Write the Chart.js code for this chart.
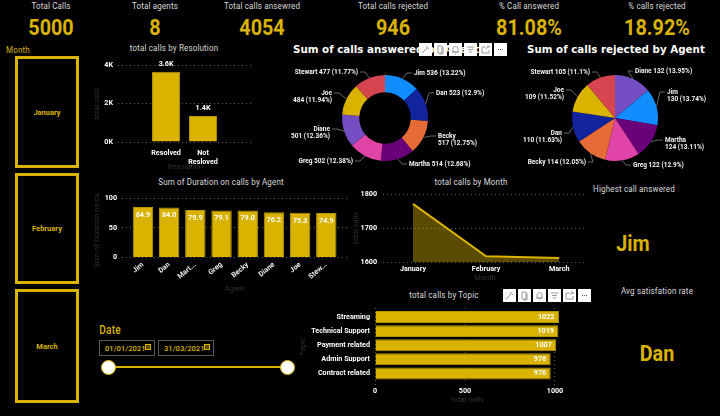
<!DOCTYPE html>
<html>
<head>
<meta charset="utf-8">
<title>Call centre dashboard</title>
<script src="https://cdn.jsdelivr.net/npm/chart.js@4/dist/chart.umd.min.js"></script>
<style>
  html, body { margin: 0; padding: 0; background: #000; }
  #page { position: relative; width: 720px; height: 416px; overflow: hidden; background: #000; font-family: Roboto, sans-serif; }
  #page canvas { position: absolute; }
  .t { position: absolute; white-space: nowrap; transform: translate(-50%, -50%) scaleX(.84); color: #dcdcdc; font-size: 9.5px; letter-spacing: .2px; }
  .big { color: #d9b300; font-size: 21.5px; font-weight: 700; letter-spacing: 0; transform: translate(-50%, -50%) scaleX(.92); }
  .gold { color: #d9b300; }
  .head { color: #fff; font: bold 10.3px "DejaVu Sans", sans-serif; transform: translate(0, -50%); letter-spacing: 0; }
  .slicer { position: absolute; left: 15px; width: 58px; border: 3px solid #d9b300; display: flex; align-items: center; justify-content: center; color: #d9b300; font-size: 7.5px; font-weight: 700; }
  .date { position: absolute; top: 340px; height: 14px; border: 1px solid #5a5a5a; color: #d9b300; font-size: 7.6px; font-weight: 500; line-height: 15px; padding-left: 5px; box-sizing: content-box; }
  .date i { position: absolute; right: 3px; top: 3px; width: 4px; height: 4px; border: 1px solid #d9b300; background: #5c4c00; }
  .track { position: absolute; left: 108px; top: 366px; width: 179px; height: 2px; background: #d9b300; }
  .knob { position: absolute; top: 360px; width: 13px; height: 13px; border-radius: 50%; background: #fff; border: 1px solid #d9b300; }
  .tools { position: absolute; display: flex; gap: 2px; z-index: 5; }
  .tools b { display: block; width: 13px; height: 13px; background: #fff; }
  .tools svg { display: block; width: 13px; height: 13px; fill: none; stroke: #9a9a9a; stroke-width: 1; }
</style>
</head>
<body>
<div id="page"></div>
<script>
const kpiNames = ["Total Calls", "Total agents", "Total calls ansewred", "Total calls rejected", "% Call answered", "% calls rejected"];
const kpiValues = ["5000", "8", "4054", "946", "81.08%", "18.92%"];
const months = ["January", "February", "March"];
const monthCalls = [1771, 1617, 1612];
const resolutions = [["Resolved"], ["Not", "Resloved"]];
const resolutionCalls = [3646, 1354];
const durationAgents = ["Jim", "Dan", "Mart...", "Greg", "Becky", "Diane", "Joe", "Stew..."];
const durationValues = [84.9, 84.0, 79.9, 79.1, 79.0, 76.2, 75.3, 74.9];
const answeredAgents = ["Jim", "Dan", "Becky", "Martha", "Greg", "Diane", "Joe", "Stewart"];
const answeredCalls = [536, 523, 517, 514, 502, 501, 484, 477];
const rejectedAgents = ["Diane", "Jim", "Martha", "Greg", "Becky", "Dan", "Joe", "Stewart"];
const rejectedCalls = [132, 130, 124, 122, 114, 110, 109, 105];
const topics = ["Streaming", "Technical Support", "Payment related", "Admin Support", "Contract related"];
const topicCalls = [1022, 1019, 1007, 976, 976];

const gold = "#d9b300";
const agentColors = { Jim: "#118dff", Dan: "#12239e", Becky: "#e66c37", Martha: "#6b007b", Greg: "#e044a7", Diane: "#744ec2", Joe: "#d9b300", Stewart: "#d64550" };
const tickFont = { family: "Roboto", size: 7.2, weight: "bold" };
const dimTitle = { color: "#303030", font: { family: "Roboto", size: 7.5 } };
const gridLine = { color: "#5c5c5c", drawTicks: false };
const noGrid = { display: false, drawTicks: false };
const gridBorder = { display: false, dash: [1, 3] };

const page = document.getElementById("page");

function text(str, x, y, cls) {
  const d = document.createElement("div");
  d.className = "t " + (cls || "");
  d.textContent = str;
  d.style.left = x + "px";
  d.style.top = y + "px";
  page.appendChild(d);
}

// kpi row
const kpiX = [51, 155, 262, 393, 529, 657];
kpiNames.forEach((n, i) => {
  text(n, kpiX[i], 5);
  text(kpiValues[i], kpiX[i], 27, "big");
});
text("Month", 18, 49, "gold");

text("total calls by Resolution", 174, 47);
text("Sum of Duration on calls by Agent", 221, 181);
text("total calls by Month", 471, 181);
text("total calls by Topic", 444, 294);
text("Highest call answered", 634, 188);
text("Jim", 633, 243, "big");
text("Avg satisfation rate", 657, 290);
text("Dan", 657, 353, "big");
text("Sum of calls answered by Agent", 293, 49, "head");
text("Sum of calls rejected by Agent", 527, 49, "head");

// month slicer
[[56, 106], [173, 105], [289, 108]].forEach((b, i) => {
  const d = document.createElement("div");
  d.className = "slicer";
  d.style.top = b[0] + "px";
  d.style.height = b[1] + "px";
  d.textContent = months[i];
  page.appendChild(d);
});

// date slicer
text("Date", 110, 330, "gold");
page.lastChild.style.fontSize = "12px";
page.lastChild.style.fontWeight = "500";
[["01/01/2021", 99], ["31/03/2021", 158]].forEach(b => {
  const d = document.createElement("div");
  d.className = "date";
  d.style.left = b[1] + "px";
  d.style.width = "49px";
  d.innerHTML = b[0] + "<i></i>";
  page.appendChild(d);
});
page.insertAdjacentHTML("beforeend", '<div class="track"></div><div class="knob" style="left:101px"></div><div class="knob" style="left:280px"></div>');

// visual header buttons
const toolIcons = [
  '<path d="M4 9 9 4M7 3l3 3M3 10l2-2"/>',
  '<path d="M4 3h4v7H4zM9 4v7H5"/>',
  '<path d="M4 9V6a2.500 2.500 0 0 1 5 0v3zM3 9h7M6 11h1"/>',
  '<path d="M3 4h7M4 6.500h5M5 9h3"/>',
  '<path d="M3 4h4M3 4v6h7V7M7 6l3-3M8 3h2v2"/>',
  '<path d="M4 6.500h1M6 6.500h1M8 6.500h1" stroke="#555"/>'
];
[[419, 43], [503, 289]].forEach(p => {
  const d = document.createElement("div");
  d.className = "tools";
  d.style.left = p[0] + "px";
  d.style.top = p[1] + "px";
  d.innerHTML = toolIcons.map(s => "<b><svg viewBox='0 0 13 13'>" + s + "</svg></b>").join("");
  page.appendChild(d);
});

function addCanvas(L, T, R, B) {
  const c = document.createElement("canvas");
  c.width = R - L;
  c.height = B - T;
  c.style.left = L + "px";
  c.style.top = T + "px";
  page.appendChild(c);
  return c;
}

// pins the plot area: the scale boxes get a fixed size instead of fitting their labels
function fixWidth(w) {
  return s => { s.width = w; s.paddingTop = 0; s.paddingBottom = 0; };
}
function fixHeight(h) {
  return s => { s.height = h; s.paddingLeft = 0; s.paddingRight = 0; };
}

// value labels on bars
const barText = {
  id: "barText",
  afterDatasetsDraw(chart, args, opts) {
    if (!opts.format) return;
    const ctx = chart.ctx;
    const horizontal = chart.options.indexAxis === "y";
    const values = chart.data.datasets[0].data;
    ctx.save();
    ctx.fillStyle = "#fff";
    ctx.font = "bold 7.2px Roboto";
    chart.getDatasetMeta(0).data.forEach((bar, i) => {
      const v = horizontal ? values[i].x : values[i].y;
      ctx.textBaseline = "middle";
      if (horizontal) {
        ctx.textAlign = "right";
        ctx.fillText(opts.format(v), bar.x - 4.5, bar.y);
      } else {
        ctx.textAlign = "center";
        ctx.fillText(opts.format(v), bar.x, bar.y + opts.shift);
      }
    });
    ctx.restore();
  }
};

// pie labels with leader lines, spots are offsets from the pie centre
const pieText = {
  id: "pieText",
  afterDatasetsDraw(chart, args, opts) {
    if (!opts.spots) return;
    const ctx = chart.ctx;
    const values = chart.data.datasets[0].data;
    const total = values.reduce((a, b) => a + b, 0);
    ctx.save();
    ctx.font = "bold 6.5px Roboto";
    ctx.textBaseline = "middle";
    chart.getDatasetMeta(0).data.forEach((arc, i) => {
      const spot = opts.spots[i];
      const pct = parseFloat((values[i] / total * 100).toFixed(2));
      const name = chart.data.labels[i];
      const rest = values[i] + " (" + pct + "%)";
      const lines = opts.wrap.includes(name) ? [name, rest] : [name + " " + rest];
      const mid = (arc.startAngle + arc.endAngle) / 2;
      const side = spot[0] >= 0 ? 1 : -1;
      const tx = arc.x + spot[0];
      const ty = arc.y + spot[1];
      ctx.strokeStyle = "#666";
      ctx.lineWidth = 1;
      ctx.beginPath();
      ctx.moveTo(arc.x + Math.cos(mid) * arc.outerRadius, arc.y + Math.sin(mid) * arc.outerRadius);
      ctx.lineTo(tx - side * 7, ty);
      ctx.lineTo(tx - side * 2, ty);
      ctx.stroke();
      ctx.fillStyle = "#f4f4f4";
      ctx.textAlign = side > 0 ? "left" : "right";
      lines.forEach((s, j) => ctx.fillText(s, tx, ty + j * 7.8));
    });
    ctx.restore();
  }
};
Chart.register(barText, pieText);
Chart.defaults.animation = false;
Chart.defaults.responsive = false;
Chart.defaults.plugins.legend.display = false;
Chart.defaults.plugins.tooltip.enabled = false;

// total calls by Resolution
new Chart(addCanvas(93, 55, 256, 172), {
  type: "bar",
  data: { datasets: [{ data: resolutionCalls.map((v, i) => ({ x: i, y: v })), backgroundColor: gold, borderColor: "#b89800", borderWidth: 1, barPercentage: 0.76, categoryPercentage: 1 }] },
  options: {
    layout: { padding: { top: 10, right: 3 } },
    scales: {
      x: {
        type: "linear", min: -1.3, max: 2.35, bounds: "data", offset: false,
        afterBuildTicks: s => { s.ticks = resolutions.map((r, i) => ({ value: i })); },
        afterFit: fixHeight(30),
        grid: noGrid, border: { display: false },
        ticks: { color: "#fff", font: tickFont, padding: 7, maxRotation: 0, callback: v => resolutions[v] },
        title: Object.assign({ display: true, text: "Resolution", padding: 0 }, dimTitle)
      },
      y: {
        min: 0, max: 4000, bounds: "data",
        afterBuildTicks: s => { s.ticks = [0, 2000, 4000].map(v => ({ value: v })); },
        afterFit: fixWidth(25),
        grid: gridLine, border: gridBorder,
        ticks: { color: "#fff", font: tickFont, padding: 5, callback: v => v / 1000 + "K" },
        title: Object.assign({ display: true, text: "total calls", padding: 0 }, dimTitle)
      }
    },
    plugins: { barText: { format: v => (v / 1000).toFixed(1) + "K", shift: -8 } }
  }
});

// Sum of Duration on calls by Agent
new Chart(addCanvas(93, 190, 350, 294), {
  type: "bar",
  data: { datasets: [{ data: durationValues.map((v, i) => ({ x: i, y: v })), backgroundColor: gold, borderColor: "#b89800", borderWidth: 1, barPercentage: 0.78, categoryPercentage: 1 }] },
  options: {
    layout: { padding: { top: 8, right: 3 } },
    scales: {
      x: {
        type: "linear", min: -0.8, max: 7.79, bounds: "data", offset: false,
        afterBuildTicks: s => { s.ticks = durationAgents.map((r, i) => ({ value: i })); },
        afterFit: fixHeight(36.5),
        grid: noGrid, border: { display: false },
        ticks: { color: "#e8e8e8", font: tickFont, padding: 3, minRotation: 40, maxRotation: 40, autoSkip: false, callback: v => durationAgents[v] },
        title: Object.assign({ display: true, text: "Agent", padding: 0 }, dimTitle)
      },
      y: {
        min: 0, max: 100, bounds: "data",
        afterBuildTicks: s => { s.ticks = [0, 50, 100].map(v => ({ value: v })); },
        afterFit: fixWidth(29),
        grid: gridLine, border: gridBorder,
        ticks: { color: "#fff", font: tickFont, padding: 5 },
        title: Object.assign({ display: true, text: "Sum of Duration on ca...", padding: 0 }, dimTitle)
      }
    },
    plugins: { barText: { format: v => v.toFixed(1), shift: 8 } }
  }
});

// total calls by Month
new Chart(addCanvas(352, 186, 590, 283), {
  type: "line",
  data: { datasets: [{ data: monthCalls.map((v, i) => ({ x: i, y: v })), borderColor: gold, borderWidth: 2, backgroundColor: "rgba(217,179,0,.42)", fill: "origin", pointRadius: 0, tension: 0 }] },
  options: {
    layout: { padding: { top: 8, right: 3 } },
    scales: {
      x: {
        type: "linear", min: -0.41, max: 2.38, bounds: "data",
        afterBuildTicks: s => { s.ticks = months.map((r, i) => ({ value: i })); },
        afterFit: fixHeight(21),
        grid: noGrid, border: { display: false },
        ticks: { color: "#fff", font: tickFont, padding: 3, maxRotation: 0, callback: v => months[v] },
        title: Object.assign({ display: true, text: "Month", padding: 0 }, dimTitle)
      },
      y: {
        min: 1600, max: 1800, bounds: "data",
        afterBuildTicks: s => { s.ticks = [1600, 1700, 1800].map(v => ({ value: v })); },
        afterFit: fixWidth(31),
        grid: gridLine, border: gridBorder,
        ticks: { color: "#fff", font: tickFont, padding: 6, callback: v => String(v) },
        title: Object.assign({ display: true, text: "total calls", padding: 0 }, dimTitle)
      }
    }
  }
});

// total calls by Topic
new Chart(addCanvas(299, 302, 566, 405), {
  type: "bar",
  data: { datasets: [{ data: topicCalls.map((v, i) => ({ x: v, y: i })), backgroundColor: gold, borderColor: "#b89800", borderWidth: 1, barPercentage: 0.85, categoryPercentage: 1 }] },
  options: {
    indexAxis: "y",
    layout: { padding: { top: 6, right: 5.6 } },
    scales: {
      x: {
        type: "linear", min: 0, max: 1030, bounds: "data",
        afterBuildTicks: s => { s.ticks = [0, 500, 1000].map(v => ({ value: v })); },
        afterFit: fixHeight(20),
        grid: gridLine, border: gridBorder,
        ticks: { color: "#fff", font: tickFont, padding: 2, maxRotation: 0, callback: v => String(v) },
        title: Object.assign({ display: true, text: "total calls", padding: 0 }, dimTitle)
      },
      y: {
        type: "linear", reverse: true, min: -0.64, max: 4.82, bounds: "data", offset: false,
        afterBuildTicks: s => { s.ticks = topics.map((r, i) => ({ value: i })); },
        afterFit: fixWidth(76),
        grid: noGrid, border: { display: false },
        ticks: { color: "#fff", font: tickFont, padding: 5, callback: v => topics[v] },
        title: Object.assign({ display: true, text: "Topic", padding: 0 }, dimTitle)
      }
    },
    plugins: { barText: { format: v => String(v) } }
  }
});

// Sum of calls answered by Agent
new Chart(addCanvas(285, 62, 525, 174), {
  type: "doughnut",
  data: { labels: answeredAgents, datasets: [{ data: answeredCalls, backgroundColor: answeredAgents.map(a => agentColors[a]), borderWidth: 0 }] },
  options: {
    cutout: "60%",
    layout: { padding: { left: 57, right: 97, top: 13, bottom: 13 } },
    plugins: {
      pieText: {
        wrap: ["Becky", "Diane", "Joe"],
        spots: [[29, -45], [51, -25], [53, 18], [24, 46], [-32, 43], [-55, 11], [-53, -25], [-27, -46]]
      }
    }
  }
});

// Sum of calls rejected by Agent
new Chart(addCanvas(518, 62, 716, 174), {
  type: "pie",
  data: { labels: rejectedAgents, datasets: [{ data: rejectedCalls, backgroundColor: rejectedAgents.map(a => agentColors[a]), borderWidth: 0 }] },
  options: {
    layout: { padding: { left: 54, right: 58, top: 13, bottom: 13 } },
    plugins: {
      pieText: {
        wrap: ["Jim", "Martha", "Dan", "Joe"],
        spots: [[20, -47], [52, -26], [50, 22], [18, 47], [-29, 44], [-53, 15], [-51, -28], [-25, -46]]
      }
    }
  }
});
</script>
</body>
</html>
